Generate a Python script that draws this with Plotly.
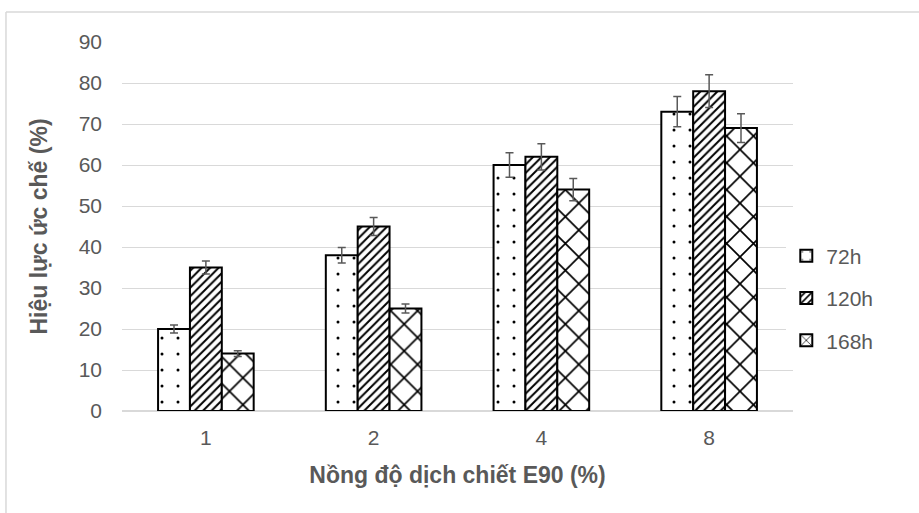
import plotly.graph_objects as go

categories = ["1", "2", "4", "8"]
series_names = ["72h", "120h", "168h"]
values_72h = [20, 38, 60, 73]
values_120h = [35, 45, 62, 78]
values_168h = [14, 25, 54, 69]
err_72h = [1.0, 1.9, 3.0, 3.7]
err_120h = [1.6, 2.2, 3.2, 4.0]
err_168h = [0.7, 1.1, 2.7, 3.5]
y_ticks = [0, 10, 20, 30, 40, 50, 60, 70, 80, 90]

values = [values_72h, values_120h, values_168h]
errors = [err_72h, err_120h, err_168h]
patterns = [dict(shape=".", size=16, solidity=0.028, fgcolor="#000000", bgcolor="#ffffff", fgopacity=1),
            dict(shape="/", size=6, solidity=0.33, fgcolor="#000000", bgcolor="#ffffff", fgopacity=1),
            dict(shape="x", size=19, solidity=0.17, fgcolor="#000000", bgcolor="#ffffff", fgopacity=1)]

FONT = "Liberation Sans, Arial, sans-serif"
GRAY = "#595959"

fig = go.Figure()
for i, name in enumerate(series_names):
    fig.add_trace(go.Bar(
        x=categories, y=values[i], name=name, legendgroup=name,
        marker=dict(color="#ffffff", line=dict(color="#000000", width=2),
                    pattern=patterns[i]),
        error_y=dict(type="data", array=errors[i], visible=True,
                     color=GRAY, thickness=1.5, width=4),
    ))

fig.update_layout(
    width=919, height=513,
    barmode="group", bargap=0.43, bargroupgap=0,
    paper_bgcolor="#ffffff", plot_bgcolor="#ffffff",
    margin=dict(l=122, r=126, t=42, b=102, autoexpand=False),
    font=dict(family=FONT, size=21, color=GRAY),
    legend=dict(x=0.99, xanchor="left", y=0.306, yanchor="middle",
                font=dict(size=21, color=GRAY), tracegroupgap=12,
                itemwidth=30, traceorder="grouped"),
    xaxis=dict(type="category", showgrid=False, showline=False, ticks="",
               ticklabelstandoff=12, tickfont=dict(size=21, color=GRAY),
               title=dict(text="<b>Nồng độ dịch chiết E90 (%)</b>", standoff=18,
                          font=dict(size=23, color=GRAY))),
    yaxis=dict(range=[0, 90], tickvals=y_ticks, showgrid=True, gridcolor="#d9d9d9",
               gridwidth=1, zeroline=True, zerolinecolor="#d9d9d9", zerolinewidth=1.5,
               showline=False, ticks="", ticklabelstandoff=19,
               tickfont=dict(size=21, color=GRAY),
               title=dict(text="<b>Hiệu lực ức chế (%)</b>", standoff=24,
                          font=dict(size=23, color=GRAY))),
    shapes=[
        dict(type="line", xref="paper", yref="paper", x0=-0.1729, x1=1.2, y0=1.0813, y1=1.0813,
             line=dict(color="#d9d9d9", width=1.5)),
        dict(type="line", xref="paper", yref="paper", x0=-0.1729, x1=-0.1729, y0=-0.3, y1=1.0813,
             line=dict(color="#d9d9d9", width=1.5)),
    ],
)

fig.write_html("out.html", config={"displayModeBar": False},
               post_script="document.body.style.margin='0';")
